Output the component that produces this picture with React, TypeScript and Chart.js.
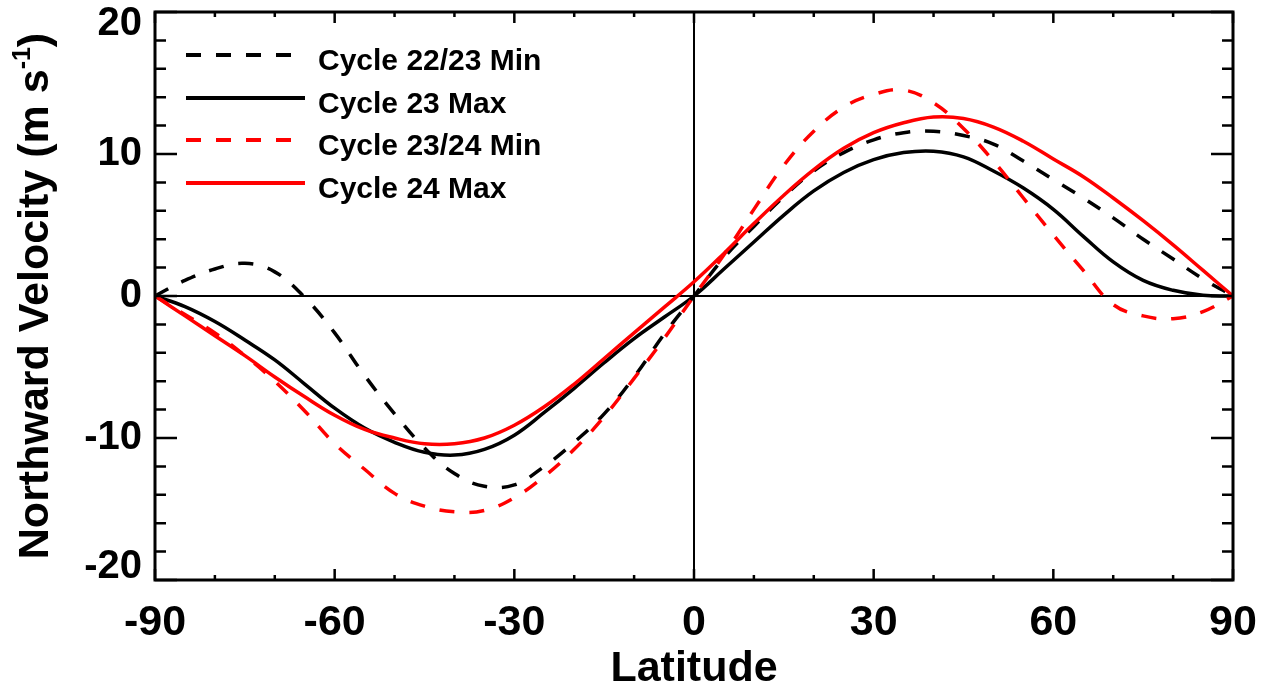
import React, { useEffect, useRef } from "react";
import { Chart, registerables } from "chart.js";

Chart.register(...registerables);

// Latitude grid (degrees) shared by all profiles
const latitudes: number[] = [
  -90, -85, -80, -75, -70, -65, -60, -55, -50, -45, -40, -35, -30, -25, -20, -15, -10, -5, 0,
  5, 10, 15, 20, 25, 30, 35, 40, 45, 50, 55, 60, 65, 70, 75, 80, 85, 90,
];

// Northward meridional flow profiles (m/s)
const cycle2223Min: number[] = [
  0, 1.1, 1.9, 2.3, 1.7, -0.1, -2.6, -5.6, -8.3, -10.7, -12.5, -13.4, -13.3, -12.0, -10.3, -8.3, -5.7, -2.7, 0,
  2.7, 4.9, 7.0, 8.8, 10.1, 11.0, 11.5, 11.6, 11.3, 10.7, 9.5, 8.2, 6.9, 5.5, 4.0, 2.6, 1.2, 0,
];
const cycle23Max: number[] = [
  0, -0.75, -1.8, -3.1, -4.5, -6.2, -7.9, -9.3, -10.3, -11.0, -11.2, -10.8, -9.8, -8.2, -6.5, -4.7, -3.0, -1.5, 0,
  1.9, 3.8, 5.7, 7.4, 8.7, 9.6, 10.1, 10.2, 9.8, 8.8, 7.6, 6.1, 4.2, 2.4, 1.1, 0.4, 0.05, 0,
];
const cycle2324Min: number[] = [
  0, -1.3, -2.6, -4.2, -6.0, -8.1, -10.4, -12.2, -13.9, -14.8, -15.2, -15.1, -14.2, -12.7, -10.8, -8.5, -5.8, -3.0, 0,
  2.9, 6.1, 9.2, 11.6, 13.3, 14.2, 14.5, 13.6, 11.8, 9.5, 6.9, 4.3, 1.8, -0.6, -1.4, -1.6, -1.1, 0,
];
const cycle24Max: number[] = [
  0, -1.4, -2.8, -4.2, -5.7, -7.1, -8.4, -9.4, -10.0, -10.4, -10.4, -10.0, -9.1, -7.8, -6.2, -4.4, -2.6, -0.8, 1.0,
  3.0, 5.1, 7.1, 8.9, 10.4, 11.5, 12.2, 12.6, 12.5, 11.9, 10.9, 9.65, 8.4, 6.9, 5.3, 3.6, 1.8, 0,
];

const seriesLabels: string[] = ["Cycle 22/23 Min", "Cycle 23 Max", "Cycle 23/24 Min", "Cycle 24 Max"];
const seriesValues: number[][] = [cycle2223Min, cycle23Max, cycle2324Min, cycle24Max];
const seriesColors: string[] = ["#000000", "#000000", "#ff0000", "#ff0000"];
const seriesDashed: boolean[] = [true, false, true, false];

const xTickValues: number[] = [-90, -60, -30, 0, 30, 60, 90];
const yTickValues: number[] = [-20, -10, 0, 10, 20];

const FONT = '"Liberation Sans", Arial, Helvetica, sans-serif';
const DASH = [15, 15];

const framePlugin = {
  id: "frame",
  beforeDatasetsDraw(chart: any) {
    const { ctx, chartArea, scales } = chart;
    const x0 = scales.x.getPixelForValue(0);
    const y0 = scales.y.getPixelForValue(0);
    ctx.save();
    ctx.strokeStyle = "#000";
    ctx.lineWidth = 2;
    ctx.beginPath();
    ctx.moveTo(chartArea.left, y0);
    ctx.lineTo(chartArea.right, y0);
    ctx.moveTo(x0, chartArea.top);
    ctx.lineTo(x0, chartArea.bottom);
    ctx.stroke();
    ctx.restore();
  },
  afterDraw(chart: any) {
    const { ctx, chartArea, scales } = chart;
    const { left, right, top, bottom } = chartArea;
    ctx.save();
    ctx.strokeStyle = "#000";
    ctx.lineCap = "butt";

    // inward tick marks
    ctx.lineWidth = 2.5;
    ctx.beginPath();
    for (let v = -20; v <= 20; v += 2) {
      const py = scales.y.getPixelForValue(v);
      const len = v % 10 === 0 ? 22 : 11;
      ctx.moveTo(left, py);
      ctx.lineTo(left + len, py);
      ctx.moveTo(right, py);
      ctx.lineTo(right - len, py);
    }
    for (let v = -90; v <= 90; v += 10) {
      const px = scales.x.getPixelForValue(v);
      const len = v % 30 === 0 ? 11 : 5;
      ctx.moveTo(px, bottom);
      ctx.lineTo(px, bottom - len);
      ctx.moveTo(px, top);
      ctx.lineTo(px, top + len);
    }
    ctx.stroke();

    // plot frame
    ctx.lineWidth = 3;
    ctx.strokeRect(left, top, right - left, bottom - top);

    // y tick labels; the end labels are pulled inside the frame
    ctx.fillStyle = "#000";
    ctx.font = `bold 40px ${FONT}`;
    ctx.textAlign = "right";
    ctx.textBaseline = "middle";
    const yMin = scales.y.min;
    const yMax = scales.y.max;
    yTickValues.forEach((v) => {
      let py = scales.y.getPixelForValue(v);
      if (v === yMax) py += 12;
      if (v === yMin) py -= 13;
      ctx.fillText(String(v), left - 13, py);
    });

    // legend
    const rowY = [55, 98, 140, 183];
    seriesLabels.forEach((label, i) => {
      const y = rowY[i];
      ctx.strokeStyle = seriesColors[i];
      ctx.lineWidth = 4;
      ctx.setLineDash(seriesDashed[i] ? DASH : []);
      ctx.beginPath();
      ctx.moveTo(186, y);
      ctx.lineTo(305, y);
      ctx.stroke();
      ctx.setLineDash([]);
      ctx.fillStyle = "#000";
      ctx.font = `bold 30px ${FONT}`;
      ctx.textAlign = "left";
      ctx.textBaseline = "alphabetic";
      ctx.fillText(label, 318, y + 15);
    });

    // y-axis title with superscript
    const main = "Northward Velocity (m s";
    const sup = "-1";
    const close = ")";
    ctx.font = `bold 43px ${FONT}`;
    const wMain = ctx.measureText(main).width;
    const wClose = ctx.measureText(close).width;
    ctx.font = `bold 25px ${FONT}`;
    const wSup = ctx.measureText(sup).width;
    const total = wMain + wSup + wClose;
    const centerY = (top + bottom) / 2;
    ctx.translate(48, centerY);
    ctx.rotate(-Math.PI / 2);
    ctx.fillStyle = "#000";
    ctx.textAlign = "left";
    ctx.textBaseline = "alphabetic";
    let cx = -total / 2;
    ctx.font = `bold 43px ${FONT}`;
    ctx.fillText(main, cx, 0);
    cx += wMain;
    ctx.font = `bold 25px ${FONT}`;
    ctx.fillText(sup, cx, -18);
    cx += wSup;
    ctx.font = `bold 43px ${FONT}`;
    ctx.fillText(close, cx, 0);
    ctx.setTransform(1, 0, 0, 1, 0, 0);

    // x-axis title
    ctx.font = `bold 43px ${FONT}`;
    ctx.textAlign = "center";
    ctx.fillText("Latitude", (left + right) / 2, 681);
    ctx.restore();
  },
};

export default function App() {
  const canvasRef = useRef<HTMLCanvasElement | null>(null);

  useEffect(() => {
    if (!canvasRef.current) return;
    const order = [4, 3, 2, 1];
    const chart = new Chart(canvasRef.current, {
      type: "line",
      data: {
        datasets: seriesLabels.map((label, i) => ({
          label,
          data: latitudes.map((lat, k) => ({ x: lat, y: seriesValues[i][k] })),
          borderColor: seriesColors[i],
          borderWidth: 3.5,
          borderDash: seriesDashed[i] ? DASH : [],
          pointRadius: 0,
          fill: false,
          tension: 0.4,
          order: order[i],
        })),
      },
      options: {
        animation: false,
        responsive: false,
        devicePixelRatio: 1,
        layout: { padding: { left: 0, top: 12, right: 39, bottom: 0 } },
        plugins: {
          legend: { display: false },
          tooltip: { enabled: false },
          title: { display: false },
        },
        scales: {
          x: {
            type: "linear",
            min: -90,
            max: 90,
            afterBuildTicks: (scale: any) => {
              scale.ticks = xTickValues.map((v) => ({ value: v }));
            },
            afterFit: (scale: any) => {
              scale.height = 108;
              scale.paddingLeft = 0;
              scale.paddingRight = 0;
            },
            grid: { display: false, drawTicks: false },
            border: { display: false },
            ticks: {
              color: "#000",
              font: { family: FONT, size: 43, weight: "bold" },
              padding: 17,
              maxRotation: 0,
              autoSkip: false,
              callback: (v: any) => String(v),
            },
          },
          y: {
            type: "linear",
            min: -20,
            max: 20,
            afterBuildTicks: (scale: any) => {
              scale.ticks = yTickValues.map((v) => ({ value: v }));
            },
            afterFit: (scale: any) => {
              scale.width = 155;
              scale.paddingTop = 0;
              scale.paddingBottom = 0;
            },
            grid: { display: false, drawTicks: false },
            border: { display: false },
            ticks: { display: false },
          },
        },
      },
      plugins: [framePlugin],
    });
    return () => chart.destroy();
  }, []);

  return (
    <div style={{ position: "fixed", left: 0, top: 0, width: 1272, height: 688, background: "#fff" }}>
      <canvas ref={canvasRef} width={1272} height={688} style={{ display: "block" }} />
    </div>
  );
}
